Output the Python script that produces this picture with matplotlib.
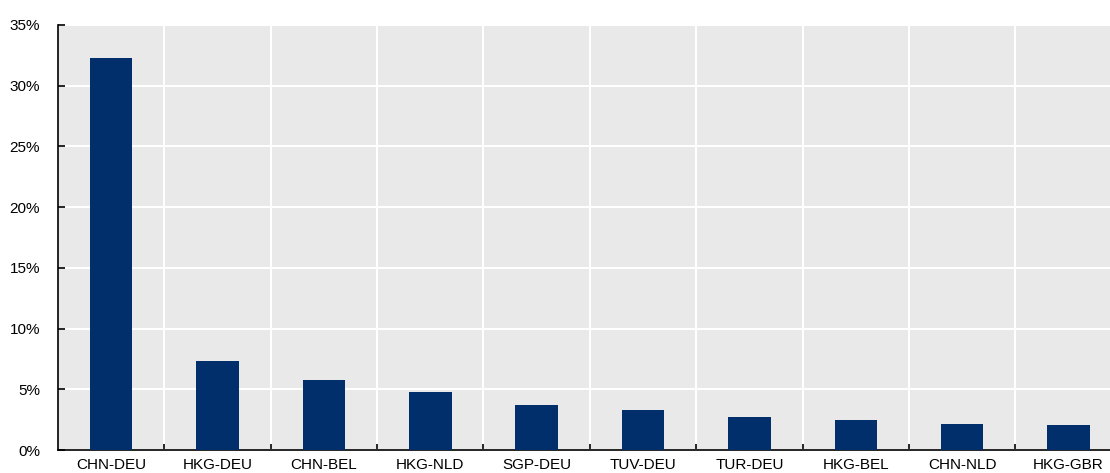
import numpy as np
import matplotlib.pyplot as plt
from matplotlib.ticker import FuncFormatter

plt.rcParams['font.family'] = ['Liberation Sans', 'DejaVu Sans']

routes = ["CHN-DEU", "HKG-DEU", "CHN-BEL", "HKG-NLD", "SGP-DEU",
          "TUV-DEU", "TUR-DEU", "HKG-BEL", "CHN-NLD", "HKG-GBR"]
shares = [32.3, 7.35, 5.8, 4.8, 3.72, 3.28, 2.72, 2.47, 2.14, 2.06]

fig = plt.figure(figsize=(11.1, 4.73), dpi=100)
ax = fig.add_axes([58 / 1110, 23 / 473, 1 - 58 / 1110, 425 / 473])
ax.set_facecolor("#e9e9e9")

x = np.arange(len(routes))
ax.bar(x, shares, width=0.4, color="#002f6c", zorder=3)

ax.set_ylim(0, 35)
ax.set_yticks(np.arange(0, 36, 5))
ax.yaxis.set_major_formatter(FuncFormatter(lambda v, p: f"{int(v)}%"))
ax.set_xlim(-0.5, 9.39)
ax.set_xticks(x)
ax.set_xticklabels(routes)
ax.set_xticks(np.arange(0.5, 9.5, 1), minor=True)

ax.grid(axis="y", color="white", linewidth=1.5, zorder=1)
ax.grid(axis="x", which="minor", color="white", linewidth=1.5, zorder=1)
ax.grid(axis="x", which="major", visible=False)
ax.set_axisbelow(True)

for side in ["top", "right"]:
    ax.spines[side].set_visible(False)
ax.spines["left"].set_linewidth(1.2)
ax.spines["bottom"].set_linewidth(1.2)

ax.tick_params(axis="y", direction="in", length=5, width=1.2, labelsize=11, pad=13)
ax.tick_params(axis="x", which="major", length=0, labelsize=11, pad=6)
ax.tick_params(axis="x", which="minor", direction="in", length=4, width=1.2)

fig.savefig("out.png", dpi=100)
